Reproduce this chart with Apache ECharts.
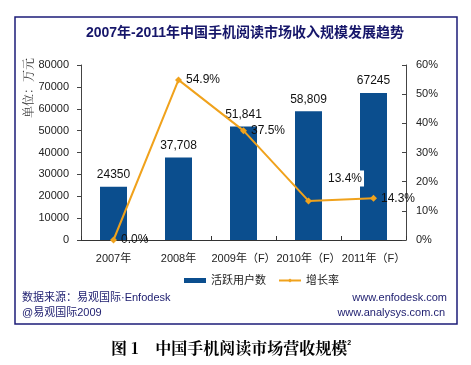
<!DOCTYPE html>
<html><head><meta charset="utf-8">
<script src="https://cdn.jsdelivr.net/npm/echarts@6/dist/echarts.min.js"></script>
<style>html,body{margin:0;padding:0;background:#fff}#c{width:471px;height:365px}</style>
</head><body><div id="c"></div>
<script>
var categories = ['2007年', '2008年', '2009年（F）', '2010年（F）', '2011年（F）'];
var revenue = [24350, 37708, 51841, 58809, 67245];
var revenueLabels = ['24350', '37,708', '51,841', '58,809', '67245'];
var growth = [0.0, 54.9, 37.5, 13.4, 14.3];
var leftTicks = {min: 0, max: 80000, interval: 10000};
var rightTicks = {min: 0, max: 60, interval: 10};

var CJK = '"Liberation Sans","Noto Sans CJK SC",sans-serif';
var chart = echarts.init(document.getElementById('c'));
var lineData = growth.map(function (v, i) {
  var d = {value: v};
  if (i === 3) d.label = {position: [21, -27], backgroundColor: '#fff', padding: [2, 2]};
  return d;
});
chart.setOption({
  animation: false,
  backgroundColor: '#fff',
  grid: {left: 81, right: 65, top: 65, bottom: 125, containLabel: false},
  graphic: [
    {type: 'rect', shape: {x: 15, y: 17, width: 442, height: 307}, style: {fill: 'none', stroke: '#1c1c78', lineWidth: 1.5}, z: 0},
    {type: 'text', x: 245, y: 33, style: {text: '2007年-2011年中国手机阅读市场收入规模发展趋势', font: 'bold 14px ' + CJK, fill: '#16166a', textAlign: 'center', textVerticalAlign: 'middle'}},
    {type: 'text', x: 28, y: 88, rotation: Math.PI / 2, style: {text: '单位：万元', font: '12px "Noto Serif CJK SC","Noto Sans CJK SC",serif', fill: '#333', textAlign: 'center', textVerticalAlign: 'middle'}},
    {type: 'text', left: 22, top: 292, style: {text: '数据来源：易观国际·Enfodesk', font: '11px ' + CJK, fill: '#1c1c6e'}},
    {type: 'text', left: 22, top: 307, style: {text: '@易观国际2009', font: '11px ' + CJK, fill: '#1c1c6e'}},
    {type: 'text', right: 24, top: 292, style: {text: 'www.enfodesk.com', font: '11px ' + CJK, fill: '#1c1c6e'}},
    {type: 'text', right: 26, top: 307, style: {text: 'www.analysys.com.cn', font: '11px ' + CJK, fill: '#1c1c6e'}},
    {type: 'text', left: 111, top: 340, style: {
      text: '{a|图 1}     {a|中国手机阅读市场营收规模}{s|2}',
      rich: {a: {font: 'bold 16px "Noto Serif CJK SC","Noto Sans CJK SC",serif', fill: '#000'}, s: {font: 'bold 7px sans-serif', fill: '#000', verticalAlign: 'top', padding: [0, 0, 8, 0]}}
    }}
  ],
  legend: {
    left: 179, top: 270, itemGap: 12, itemWidth: 22, itemHeight: 5,
    textStyle: {fontSize: 11, color: '#222', fontFamily: CJK},
    data: [{name: '活跃用户数', icon: 'rect'}, {name: '增长率'}]
  },
  xAxis: {
    type: 'category', data: categories,
    axisLine: {lineStyle: {color: '#333', width: 1}},
    axisTick: {show: true, inside: true, alignWithLabel: false, length: 4, lineStyle: {color: '#333'}},
    axisLabel: {fontSize: 11, color: '#222', fontFamily: CJK, margin: 13, interval: 0}
  },
  yAxis: [
    {type: 'value', min: leftTicks.min, max: leftTicks.max, interval: leftTicks.interval,
     splitLine: {show: false},
     axisLine: {show: true, lineStyle: {color: '#444'}},
     axisTick: {show: true, length: 4, lineStyle: {color: '#444'}},
     axisLabel: {fontSize: 11, color: '#222', fontFamily: CJK, margin: 12, formatter: function (v) { return String(v); }}},
    {type: 'value', min: rightTicks.min, max: rightTicks.max, interval: rightTicks.interval,
     splitLine: {show: false},
     axisLine: {show: true, lineStyle: {color: '#444'}},
     axisTick: {show: true, inside: true, length: 4, lineStyle: {color: '#444'}},
     axisLabel: {fontSize: 11, color: '#222', fontFamily: CJK, margin: 10, formatter: '{value}%'}}
  ],
  series: [
    {name: '活跃用户数', type: 'bar', data: revenue, barWidth: 27, yAxisIndex: 0,
     itemStyle: {color: '#0b4e8e'},
     label: {show: true, position: 'top', distance: 6, fontSize: 12, color: '#111', fontFamily: CJK,
       formatter: function (p) { return revenueLabels[p.dataIndex]; }}},
    {name: '增长率', type: 'line', data: lineData, yAxisIndex: 1,
     symbol: 'diamond', symbolSize: 7,
     lineStyle: {color: '#f0a21c', width: 2}, itemStyle: {color: '#f0a21c'},
     label: {show: true, position: 'right', distance: 4, fontSize: 12, color: '#111', fontFamily: CJK,
       formatter: function (p) { return growth[p.dataIndex].toFixed(1) + '%'; }}}
  ]
});
</script></body></html>
